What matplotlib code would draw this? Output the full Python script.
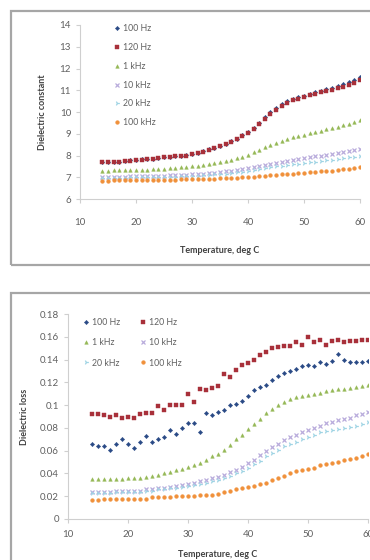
import matplotlib
matplotlib.use("Agg")
import matplotlib.pyplot as plt
from matplotlib.patches import Rectangle
import numpy as np

plt.rcParams['font.family'] = ['Lato', 'DejaVu Sans']

# temperatures, deg C
temp = list(range(14, 61))

# dielectric constant
eps_100hz = [7.70, 7.72, 7.72, 7.70, 7.75, 7.78, 7.80, 7.82, 7.83, 7.85,
             7.90, 7.93, 7.95, 7.97, 7.98, 8.02, 8.07, 8.12, 8.20, 8.28,
             8.36, 8.45, 8.55, 8.66, 8.78, 8.92, 9.08, 9.28, 9.50, 9.75,
             10.0, 10.2, 10.38, 10.5, 10.6, 10.68, 10.75, 10.82, 10.9, 10.97,
             11.05, 11.12, 11.2, 11.28, 11.38, 11.48, 11.6]
eps_120hz = [7.68, 7.70, 7.70, 7.68, 7.73, 7.76, 7.78, 7.80, 7.82, 7.84,
             7.88, 7.92, 7.94, 7.96, 7.97, 8.00, 8.05, 8.10, 8.18, 8.26,
             8.34, 8.43, 8.52, 8.63, 8.75, 8.88, 9.03, 9.22, 9.43, 9.66,
             9.90, 10.1, 10.28, 10.42, 10.53, 10.62, 10.7, 10.77, 10.84, 10.9,
             10.97, 11.03, 11.1, 11.17, 11.25, 11.35, 11.45]
eps_1khz = [7.30, 7.31, 7.32, 7.32, 7.33, 7.33, 7.34, 7.35, 7.35, 7.36,
            7.38, 7.40, 7.42, 7.44, 7.46, 7.48, 7.50, 7.53, 7.56, 7.60,
            7.64, 7.69, 7.74, 7.80, 7.87, 7.95, 8.04, 8.14, 8.25, 8.37,
            8.48, 8.58, 8.67, 8.75, 8.83, 8.9, 8.96, 9.02, 9.08, 9.14,
            9.2, 9.26, 9.33, 9.4, 9.47, 9.55, 9.63]
eps_10khz = [7.02, 7.02, 7.03, 7.03, 7.03, 7.04, 7.04, 7.05, 7.05, 7.06,
             7.07, 7.08, 7.09, 7.10, 7.11, 7.12, 7.13, 7.15, 7.17, 7.19,
             7.21, 7.24, 7.27, 7.30, 7.34, 7.38, 7.42, 7.47, 7.52, 7.57,
             7.62, 7.67, 7.72, 7.76, 7.8, 7.84, 7.88, 7.92, 7.96, 8.0,
             8.03, 8.07, 8.11, 8.15, 8.19, 8.24, 8.3]
eps_20khz = [6.97, 6.97, 6.98, 6.98, 6.98, 6.99, 6.99, 7.0, 7.0, 7.0,
             7.01, 7.02, 7.02, 7.03, 7.04, 7.05, 7.06, 7.07, 7.09, 7.11,
             7.13, 7.15, 7.17, 7.2, 7.23, 7.26, 7.3, 7.34, 7.38, 7.42,
             7.46, 7.5, 7.54, 7.57, 7.6, 7.63, 7.66, 7.69, 7.72, 7.75,
             7.78, 7.81, 7.84, 7.87, 7.91, 7.95, 8.0]
eps_100khz = [6.85, 6.85, 6.86, 6.86, 6.86, 6.86, 6.87, 6.87, 6.87, 6.88,
              6.88, 6.88, 6.89, 6.89, 6.9, 6.9, 6.91, 6.92, 6.92, 6.93,
              6.94, 6.95, 6.96, 6.97, 6.98, 7.0, 7.01, 7.03, 7.05, 7.07,
              7.09, 7.11, 7.13, 7.15, 7.17, 7.19, 7.21, 7.23, 7.25, 7.27,
              7.29, 7.31, 7.33, 7.36, 7.39, 7.42, 7.46]

# dielectric loss
loss_100hz = [0.066, 0.064, 0.064, 0.061, 0.066, 0.070, 0.066, 0.062, 0.068, 0.073,
              0.068, 0.070, 0.072, 0.078, 0.075, 0.080, 0.084, 0.084, 0.076, 0.093,
              0.091, 0.094, 0.096, 0.100, 0.101, 0.104, 0.108, 0.113, 0.116, 0.118,
              0.122, 0.126, 0.128, 0.130, 0.132, 0.134, 0.135, 0.134, 0.138, 0.136,
              0.139, 0.145, 0.140, 0.138, 0.138, 0.138, 0.139]
loss_120hz = [0.092, 0.092, 0.091, 0.090, 0.091, 0.089, 0.090, 0.089, 0.092, 0.093,
              0.093, 0.099, 0.096, 0.100, 0.100, 0.100, 0.110, 0.103, 0.114, 0.113,
              0.115, 0.117, 0.127, 0.125, 0.131, 0.135, 0.137, 0.140, 0.144, 0.147,
              0.150, 0.151, 0.152, 0.152, 0.155, 0.153, 0.160, 0.155, 0.157, 0.153,
              0.156, 0.157, 0.155, 0.156, 0.156, 0.157, 0.157]
loss_1khz = [0.035, 0.035, 0.035, 0.035, 0.035, 0.035, 0.036, 0.036, 0.036, 0.037,
             0.038, 0.039, 0.040, 0.041, 0.043, 0.044, 0.046, 0.047, 0.049, 0.052,
             0.055, 0.057, 0.061, 0.065, 0.070, 0.074, 0.079, 0.083, 0.088, 0.093,
             0.097, 0.100, 0.103, 0.105, 0.107, 0.108, 0.109, 0.110, 0.111, 0.112,
             0.113, 0.114, 0.114, 0.115, 0.116, 0.117, 0.118]
loss_10khz = [0.024, 0.024, 0.024, 0.024, 0.025, 0.025, 0.025, 0.025, 0.025, 0.026,
              0.026, 0.027, 0.027, 0.028, 0.029, 0.030, 0.031, 0.032, 0.033, 0.034,
              0.036, 0.037, 0.039, 0.041, 0.043, 0.046, 0.049, 0.052, 0.056, 0.060,
              0.063, 0.066, 0.069, 0.072, 0.074, 0.076, 0.078, 0.080, 0.082, 0.084,
              0.085, 0.087, 0.088, 0.089, 0.091, 0.092, 0.094]
loss_20khz = [0.023, 0.023, 0.023, 0.023, 0.024, 0.024, 0.024, 0.024, 0.024, 0.025,
              0.025, 0.026, 0.026, 0.027, 0.027, 0.028, 0.029, 0.030, 0.031, 0.032,
              0.033, 0.034, 0.036, 0.038, 0.040, 0.042, 0.045, 0.048, 0.051, 0.055,
              0.058, 0.061, 0.064, 0.066, 0.068, 0.070, 0.072, 0.074, 0.076, 0.077,
              0.078, 0.079, 0.080, 0.081, 0.082, 0.083, 0.085]
loss_100khz = [0.017, 0.017, 0.018, 0.018, 0.018, 0.018, 0.018, 0.018, 0.018, 0.018,
               0.019, 0.019, 0.019, 0.019, 0.020, 0.020, 0.020, 0.020, 0.021, 0.021,
               0.021, 0.022, 0.024, 0.025, 0.026, 0.027, 0.028, 0.029, 0.031, 0.032,
               0.034, 0.036, 0.038, 0.040, 0.042, 0.043, 0.044, 0.045, 0.047, 0.048,
               0.049, 0.050, 0.052, 0.053, 0.054, 0.055, 0.057]

labels = ['100 Hz', '120 Hz', '1 kHz', '10 kHz', '20 kHz', '100 kHz']
colors = ['#2a4a86', '#a8303a', '#95b856', '#b9acdc', '#9fd4e4', '#f0903a']
markers = ['D', 's', '^', 'x', '4', 'o']
sizes = [2.2, 2.8, 2.6, 3.0, 3.4, 2.7]

eps_series = [eps_100hz, eps_120hz, eps_1khz, eps_10khz, eps_20khz, eps_100khz]
loss_series = [loss_100hz, loss_120hz, loss_1khz, loss_10khz, loss_20khz, loss_100khz]

W, H = 370, 560
fig = plt.figure(figsize=(W / 100, H / 100), dpi=100)

# gray chart borders
for x0, y0, x1, y1 in [(11, 11, 380, 265), (11, 293, 380, 570)]:
    fig.patches.append(Rectangle((x0 / W, 1 - y1 / H), (x1 - x0) / W, (y1 - y0) / H,
                                 transform=fig.transFigure, fill=False,
                                 edgecolor='#a6a6a6', linewidth=1.6))


def style(ax, xpad):
    for s in ['top', 'right']:
        ax.spines[s].set_visible(False)
    for s in ['left', 'bottom']:
        ax.spines[s].set_color('#cfcfcf')
        ax.spines[s].set_linewidth(0.8)
    ax.tick_params(colors='#cfcfcf', labelcolor='#606060', labelsize=7,
                   length=3, width=0.8, direction='out')
    ax.tick_params(axis='x', pad=xpad)


def px_axes(left, right, top, bottom):
    return fig.add_axes([left / W, 1 - bottom / H, (right - left) / W, (bottom - top) / H])


def draw(ax, series):
    for y, lab, c, m, ms in zip(series, labels, colors, markers, sizes):
        ax.plot(temp, y, linestyle='none', marker=m, markersize=ms, color=c,
                markeredgewidth=0.9 if m in ('x', '4') else 0.3, label=lab)


# top: dielectric constant
ax1 = px_axes(80, 360, 25, 199)
draw(ax1, eps_series)
ax1.set_xlim(10, 60)
ax1.set_ylim(6, 14)
ax1.set_yticks(range(6, 15))
ax1.set_xticks(range(10, 61, 10))
style(ax1, 11)
ax1.set_xlabel('Temperature, deg C', fontsize=6.5, fontweight='bold', color='#404040', labelpad=13)
ax1.set_ylabel('Dielectric constant', fontsize=6.5, fontweight='bold', color='#404040', labelpad=9)
ax1.legend(loc='upper left', bbox_to_anchor=(0.09, 1.05), frameon=False, fontsize=6.3,
           handletextpad=0.1, handlelength=1.0, labelspacing=1.12, labelcolor='#606060')

# bottom: dielectric loss
ax2 = px_axes(68, 368, 314, 519)
draw(ax2, loss_series)
ax2.set_xlim(10, 60)
ax2.set_ylim(0, 0.18)
ax2.set_yticks(np.arange(0, 0.181, 0.02))
ax2.set_yticklabels(['0', '0.02', '0.04', '0.06', '0.08', '0.1', '0.12', '0.14', '0.16', '0.18'])
ax2.set_xticks(range(10, 61, 10))
style(ax2, 5)
ax2.set_xlabel('Temperature, deg C', fontsize=6.5, fontweight='bold', color='#404040', labelpad=8)
ax2.set_ylabel('Dielectric loss', fontsize=6.5, fontweight='bold', color='#404040', labelpad=8)
h, l = ax2.get_legend_handles_labels()
order = [0, 2, 4, 1, 3, 5]
ax2.legend([h[i] for i in order], [l[i] for i in order], ncol=2, loc='upper left',
           bbox_to_anchor=(0.02, 1.02), frameon=False, fontsize=6.3, handletextpad=0.1,
           handlelength=1.0, labelspacing=1.3, columnspacing=2.2, labelcolor='#606060')

fig.savefig('out.png', dpi=100)
